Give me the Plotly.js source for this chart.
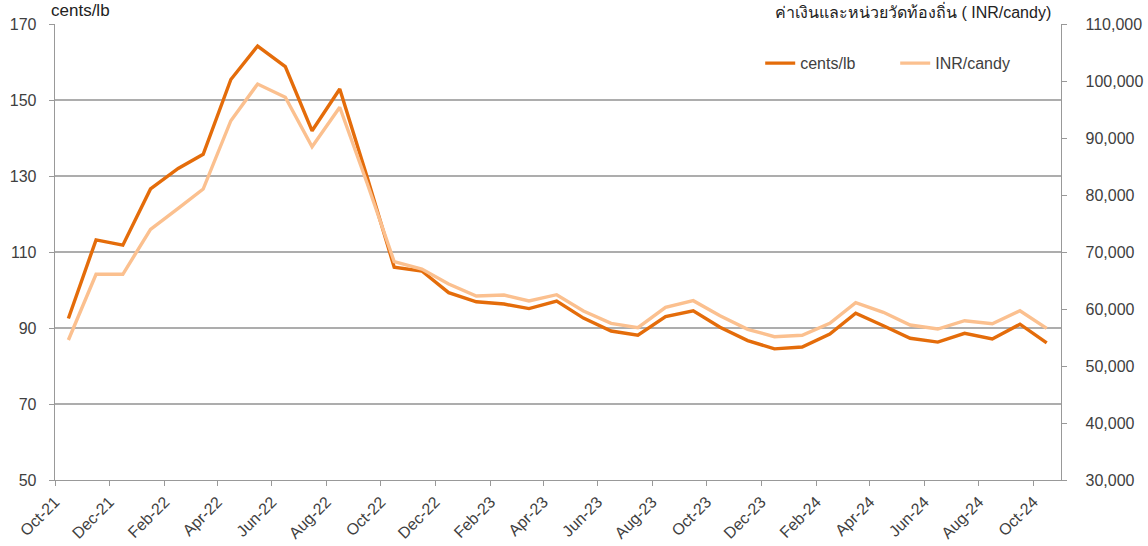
<!DOCTYPE html>
<html>
<head>
<meta charset="utf-8">
<script src="https://cdn.plot.ly/plotly-3.0.1.min.js"></script>
<style>
html,body{margin:0;padding:0;background:#fff;}
#chart{width:1148px;height:546px;}
</style>
</head>
<body>
<div id="chart"></div>
<script>
var months = ['2021-10','2021-11','2021-12','2022-01','2022-02','2022-03','2022-04','2022-05','2022-06','2022-07','2022-08','2022-09',
  '2022-10','2022-11','2022-12','2023-01','2023-02','2023-03','2023-04','2023-05','2023-06','2023-07','2023-08','2023-09',
  '2023-10','2023-11','2023-12','2024-01','2024-02','2024-03','2024-04','2024-05','2024-06','2024-07','2024-08','2024-09','2024-10'];
var centsPerLb = [92.5,113.2,111.8,126.6,132.0,135.7,155.4,164.2,158.8,141.9,152.9,129.5,
  106.0,105.0,99.3,96.9,96.3,95.1,97.1,92.6,89.2,88.1,93.0,94.5,
  90.2,86.7,84.5,85.0,88.4,93.9,90.6,87.3,86.3,88.6,87.1,91.0,86.1];
var inrPerCandy = [54560,66090,66090,73980,77670,81050,93030,99470,97140,88470,95390,81930,
  68300,67020,64390,62280,62460,61400,62510,59650,57490,56720,60300,61460,
  58830,56440,55140,55390,57490,61100,59420,57190,56490,57950,57420,59700,56610];
var leftTicks = [50,70,90,110,130,150,170];
var rightTicks = [30000,40000,50000,60000,70000,80000,90000,100000,110000];
var leftTitle = 'cents/lb';
var rightTitle = 'ค่าเงินและหน่วยวัดท้องถิ่น ( INR/candy)';

var xDates = months.map(function(m){ return m + '-16'; });
var FONT = 'Liberation Sans, Arial, sans-serif';
var TXT = '#404040';

var traces = [
  {x:xDates, y:centsPerLb, name:'cents/lb', type:'scatter', mode:'lines',
   line:{color:'#E46C0A', width:3.4}, yaxis:'y'},
  {x:xDates, y:inrPerCandy, name:'INR/candy', type:'scatter', mode:'lines',
   line:{color:'#FBC08F', width:3.4}, yaxis:'y2'}
];
// draw dark line on top
traces = [traces[1], traces[0]];

var layout = {
  width:1148, height:546,
  margin:{l:55, r:87, t:24, b:66},
  paper_bgcolor:'#fff', plot_bgcolor:'#fff',
  font:{family:FONT, size:16, color:TXT},
  showlegend:true,
  legend:{orientation:'h', x:0.701, y:0.914, xanchor:'left', yanchor:'middle',
    traceorder:'reversed', font:{family:FONT, size:16, color:TXT},
    entrywidth:90, entrywidthmode:'pixels', bgcolor:'rgba(0,0,0,0)'},
  xaxis:{type:'date', range:['2021-10-01','2024-11-01'], tick0:'2021-10-01', dtick:'M2',
    tickformat:'%b-%y', tickangle:-45, ticks:'outside', ticklen:5, tickcolor:'#999',
    showline:true, linecolor:'#999', linewidth:1.3, showgrid:false, zeroline:false,
    tickfont:{family:FONT, size:16, color:TXT}},
  yaxis:{range:[50,170], tickvals:leftTicks, ticks:'outside', ticklen:5, tickcolor:'#999',
    showline:true, linecolor:'#999', linewidth:1.3, showgrid:true, gridcolor:'#ADADAD', gridwidth:1.3,
    zeroline:false, tickfont:{family:FONT, size:16, color:TXT}, ticklabelstandoff:9},
  yaxis2:{range:[30000,110000], tickvals:rightTicks, overlaying:'y', side:'right',
    ticks:'outside', ticklen:5, tickcolor:'#999', showline:true, linecolor:'#999', linewidth:1.3,
    showgrid:false, zeroline:false, tickformat:',d', tickfont:{family:FONT, size:16, color:TXT},
    ticklabelstandoff:15},
  annotations:[
    {text:leftTitle, xref:'paper', yref:'paper', x:0, y:1, xanchor:'left', yanchor:'bottom',
     xshift:-6, yshift:2, showarrow:false, font:{family:FONT, size:17, color:'#222'}},
    {text:rightTitle, xref:'paper', yref:'paper', x:1, y:1, xanchor:'right', yanchor:'bottom',
     xshift:-8, yshift:1, showarrow:false, font:{family:FONT, size:16, color:'#222'}}
  ]
};

Plotly.newPlot('chart', traces, layout, {displayModeBar:false, staticPlot:true});
</script>
</body>
</html>
